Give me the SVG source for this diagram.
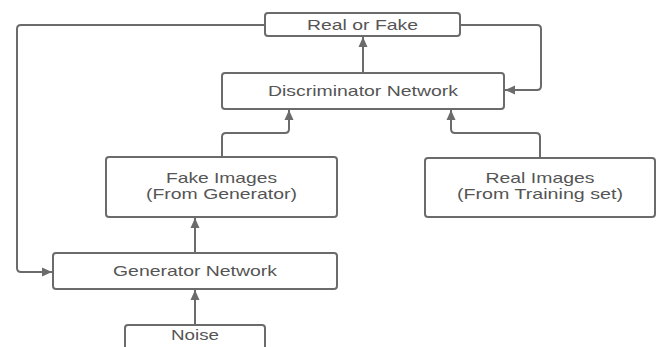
<svg xmlns="http://www.w3.org/2000/svg" width="658" height="347" viewBox="0 0 658 347">
<style>
.box{fill:#fff;stroke:#6b6b6b;stroke-width:2}
.lbl{font-family:"Liberation Sans",Arial,sans-serif;font-size:15px;fill:#555;text-anchor:middle}
.con{fill:none;stroke:#6b6b6b;stroke-width:2;stroke-linejoin:round}
</style>
<defs>
<marker id="ah" viewBox="0 0 10 10" refX="10" refY="5" markerWidth="10" markerHeight="10" markerUnits="userSpaceOnUse" orient="auto">
<path d="M0,0.5 L10,5 L0,9.5 Z" fill="#6b6b6b"/>
</marker>
</defs>
<rect width="658" height="347" fill="#fff"/>
<g id="connectors">
<path class="con" d="M265,25 H21 Q17,25 17,29 V268 Q17,272 21,272 H52" marker-end="url(#ah)"/>
<path class="con" d="M460,25 H537 Q541,25 541,29 V86 Q541,90 537,90 H505" marker-end="url(#ah)"/>
<path class="con" d="M363,73 V37" marker-end="url(#ah)"/>
<path class="con" d="M222,157 V137 Q222,133 226,133 H285 Q289,133 289,129 V110" marker-end="url(#ah)"/>
<path class="con" d="M540,158 V137 Q540,133 536,133 H455 Q451,133 451,129 V110" marker-end="url(#ah)"/>
<path class="con" d="M195,253 V218" marker-end="url(#ah)"/>
<path class="con" d="M195,325 V290" marker-end="url(#ah)"/>
</g>
<g id="real-or-fake">
<rect class="box" x="265" y="13" width="195" height="23" rx="3"/>
<text class="lbl" x="362.5" y="29.5" textLength="111" lengthAdjust="spacingAndGlyphs">Real or Fake</text>
</g>
<g id="discriminator">
<rect class="box" x="222" y="73" width="282" height="36" rx="3"/>
<text class="lbl" x="363" y="95.5" textLength="190" lengthAdjust="spacingAndGlyphs">Discriminator Network</text>
</g>
<g id="fake-images">
<rect class="box" x="106" y="157" width="231" height="60" rx="3"/>
<text class="lbl" x="221.5" y="183" textLength="111" lengthAdjust="spacingAndGlyphs">Fake Images</text>
<text class="lbl" x="221.5" y="198.5" textLength="151" lengthAdjust="spacingAndGlyphs">(From Generator)</text>
</g>
<g id="real-images">
<rect class="box" x="425" y="158" width="230" height="59" rx="3"/>
<text class="lbl" x="540" y="183" textLength="109" lengthAdjust="spacingAndGlyphs">Real Images</text>
<text class="lbl" x="540" y="198.5" textLength="166" lengthAdjust="spacingAndGlyphs">(From Training set)</text>
</g>
<g id="generator">
<rect class="box" x="53" y="253" width="284" height="36" rx="3"/>
<text class="lbl" x="195" y="275.5" textLength="164" lengthAdjust="spacingAndGlyphs">Generator Network</text>
</g>
<g id="noise">
<rect class="box" x="125" y="325" width="140" height="40" rx="3"/>
<text class="lbl" x="195" y="340" textLength="48" lengthAdjust="spacingAndGlyphs">Noise</text>
</g>
</svg>
